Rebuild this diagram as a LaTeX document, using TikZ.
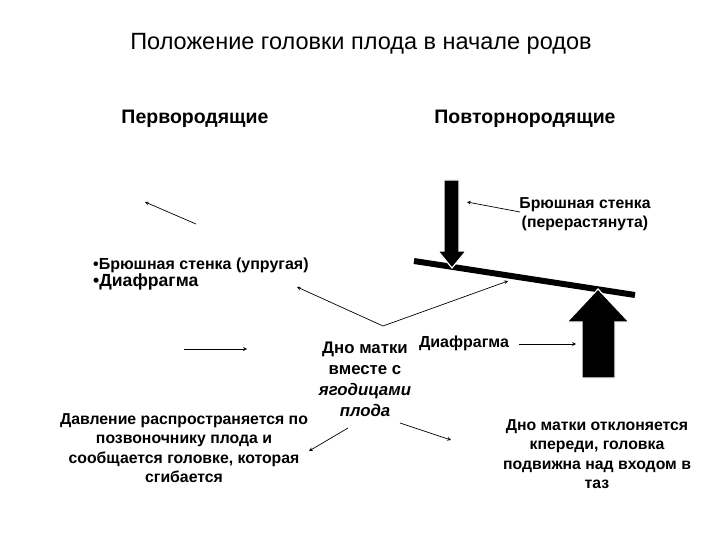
\documentclass[tikz,border=0pt]{standalone}
\usepackage{fontspec}
\setmainfont{Liberation Sans}
\usetikzlibrary{arrows, positioning}

\begin{document}
\begin{tikzpicture}[x=1pt, y=-1pt, >=stealth,
    lbl/.style={font=\bfseries\fontsize{15.8}{19.5}\selectfont, align=center, inner sep=0pt},
    head/.style={font=\bfseries\fontsize{19.5}{22}\selectfont, inner sep=0pt},
    ptr/.style={->, line width=0.7pt},
    big/.style={fill=black, draw=white, line width=1.2pt}]
    \useasboundingbox (0,0) rectangle (720,540);

    \node[font=\fontsize{23.5}{27}\selectfont, inner sep=0pt] (title) at (361,44) {Положение головки плода в начале родов};
    \node[head] (prim) at (195,119) {Первородящие};
    \node[head] (multi) at (525,119) {Повторнородящие};

    % left column
    \node[font=\bfseries\fontsize{16}{18}\selectfont, anchor=west, inner sep=0pt] (wall) at (93,265) {•Брюшная стенка (упругая)};
    \node[font=\bfseries\fontsize{17.6}{19}\selectfont, anchor=west, inner sep=0pt] (diaph) at (93,282) {•Диафрагма};
    \node[lbl, font=\bfseries\fontsize{16.8}{21}\selectfont] (fundus) at (365,379) {Дно матки\\вместе с\\\textit{ягодицами}\\\textit{плода}};
    \node[lbl] (press) at (184,448) {Давление распространяется по\\позвоночнику плода и\\сообщается головке, которая\\сгибается};

    % right column
    \node[lbl] (wall2) at (585,214) {Брюшная стенка\\(перерастянута)};
    \node[lbl, font=\bfseries\fontsize{16}{19}\selectfont] (diaph2) at (464,343) {Диафрагма};
    \node[lbl] (tilt) at (597,454) {Дно матки отклоняется\\кпереди, головка\\подвижна над входом в\\таз};

    % lever and big arrows
    \coordinate (lvA) at (414,261);
    \coordinate (lvB) at (635,295);
    \draw[line width=6pt] (lvA) -- (lvB);
    \path[big] (444,180) -- (459,180) -- (459,251) -- (466,251) -- (452,268)
        -- (438,251) -- (444,251) -- cycle;
    \path[big] (582,378) -- (582,322) -- (567,322) -- (598,289) -- (629,322)
        -- (615,322) -- (615,378) -- cycle;

    % thin pointers
    \coordinate (p1s) at (196,224);
    \coordinate (p1e) at (145,202);
    \coordinate (p2s) at (184,349);
    \coordinate (p2e) at (247,349);
    \coordinate (vtx) at (383,326);
    \coordinate (vl) at (297,287);
    \coordinate (vr) at (508,281);
    \coordinate (p3s) at (520,212);
    \coordinate (p3e) at (467,202);
    \coordinate (p4s) at (519,344);
    \coordinate (p4e) at (576,344);
    \coordinate (p5s) at (348,428);
    \coordinate (p5e) at (309,451);
    \coordinate (p6s) at (400,423);
    \coordinate (p6e) at (451,440);

    \path[ptr]
    (p1s) edge (p1e)
    (p2s) edge (p2e)
    (vtx) edge (vl)
    (vtx) edge (vr)
    (p3s) edge (p3e)
    (p4s) edge (p4e)
    (p5s) edge (p5e)
    (p6s) edge (p6e);
\end{tikzpicture}
\end{document}
